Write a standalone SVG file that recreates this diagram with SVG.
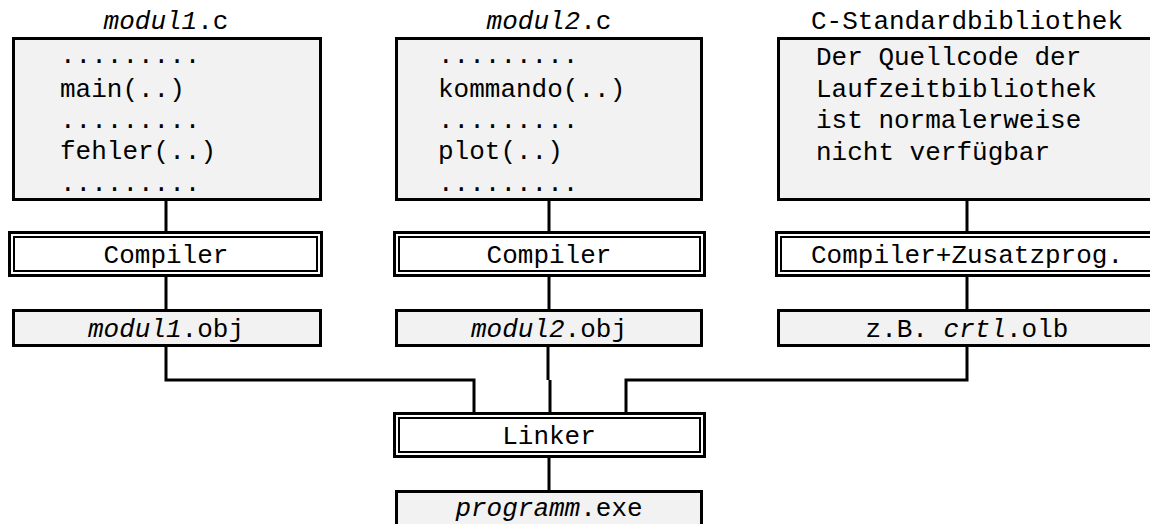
<svg xmlns="http://www.w3.org/2000/svg" width="1150" height="524" viewBox="0 0 1150 524">
<style>
text{font-family:"Liberation Mono","Courier New",monospace;font-size:26px;fill:#000}
.m{text-anchor:middle}
.i{font-style:italic}
.box{fill:#f2f2f2;stroke:#000;stroke-width:3}
.dbo{fill:#fff;stroke:#000;stroke-width:3}
.dbi{fill:none;stroke:#000;stroke-width:2}
.c{fill:none;stroke:#000;stroke-width:3}
</style>
<rect width="1150" height="524" fill="#fff"/>
<g id="connectors">
<path class="c" d="M166,200V232M166,277V310M166,346V380H474V413"/>
<path class="c" d="M549,200V232M549,277V310M548,346V380M550,380V413"/>
<path class="c" d="M967,200V232M967,277V310M967,346V380H626V413"/>
<path class="c" d="M549,457V491"/>
</g>
<g id="modul1c">
<text class="m" x="166" y="29"><tspan class="i">modul1</tspan>.c</text>
<rect class="box" x="13.5" y="38.5" width="307" height="161"/>
<text x="60" y="63">.........</text>
<text x="60" y="97">main(..)</text>
<text x="60" y="128">.........</text>
<text x="60" y="159">fehler(..)</text>
<text x="60" y="191">.........</text>
</g>
<g id="modul2c">
<text class="m" x="549" y="29"><tspan class="i">modul2</tspan>.c</text>
<rect class="box" x="396.5" y="38.5" width="305" height="161"/>
<text x="438" y="63">.........</text>
<text x="438" y="97">kommando(..)</text>
<text x="438" y="128">.........</text>
<text x="438" y="159">plot(..)</text>
<text x="438" y="191">.........</text>
</g>
<g id="stdlib">
<text class="m" x="967" y="29">C-Standardbibliothek</text>
<rect class="box" x="778.5" y="38.5" width="377" height="161"/>
<text x="816" y="65">Der Quellcode der</text>
<text x="816" y="97">Laufzeitbibliothek</text>
<text x="816" y="128">ist normalerweise</text>
<text x="816" y="160">nicht verfügbar</text>
</g>
<g id="compiler1">
<rect class="dbo" x="9.5" y="232.5" width="312" height="43"/>
<rect class="dbi" x="14" y="237" width="303" height="34"/>
<text class="m" x="166" y="263">Compiler</text>
</g>
<g id="compiler2">
<rect class="dbo" x="394.5" y="232.5" width="310" height="43"/>
<rect class="dbi" x="399" y="237" width="301" height="34"/>
<text class="m" x="549" y="263">Compiler</text>
</g>
<g id="compiler3">
<rect class="dbo" x="776.5" y="232.5" width="381" height="43"/>
<rect class="dbi" x="781" y="237" width="372" height="34"/>
<text class="m" x="967" y="263">Compiler+Zusatzprog.</text>
</g>
<g id="obj1">
<rect class="box" x="13.5" y="310.5" width="307" height="35"/>
<text class="m" x="166" y="337"><tspan class="i">modul1</tspan>.obj</text>
</g>
<g id="obj2">
<rect class="box" x="396.5" y="310.5" width="305" height="35"/>
<text class="m" x="549" y="337"><tspan class="i">modul2</tspan>.obj</text>
</g>
<g id="olb">
<rect class="box" x="778.5" y="310.5" width="377" height="35"/>
<text class="m" x="967" y="337">z.B. <tspan class="i">crtl</tspan>.olb</text>
</g>
<g id="linker">
<rect class="dbo" x="394.5" y="413.5" width="310" height="43"/>
<rect class="dbi" x="399" y="418" width="301" height="34"/>
<text class="m" x="549" y="444">Linker</text>
</g>
<g id="exe">
<rect class="box" x="396.5" y="491.5" width="305" height="45"/>
<text class="m" x="549" y="516"><tspan class="i">programm</tspan>.exe</text>
</g>
</svg>
